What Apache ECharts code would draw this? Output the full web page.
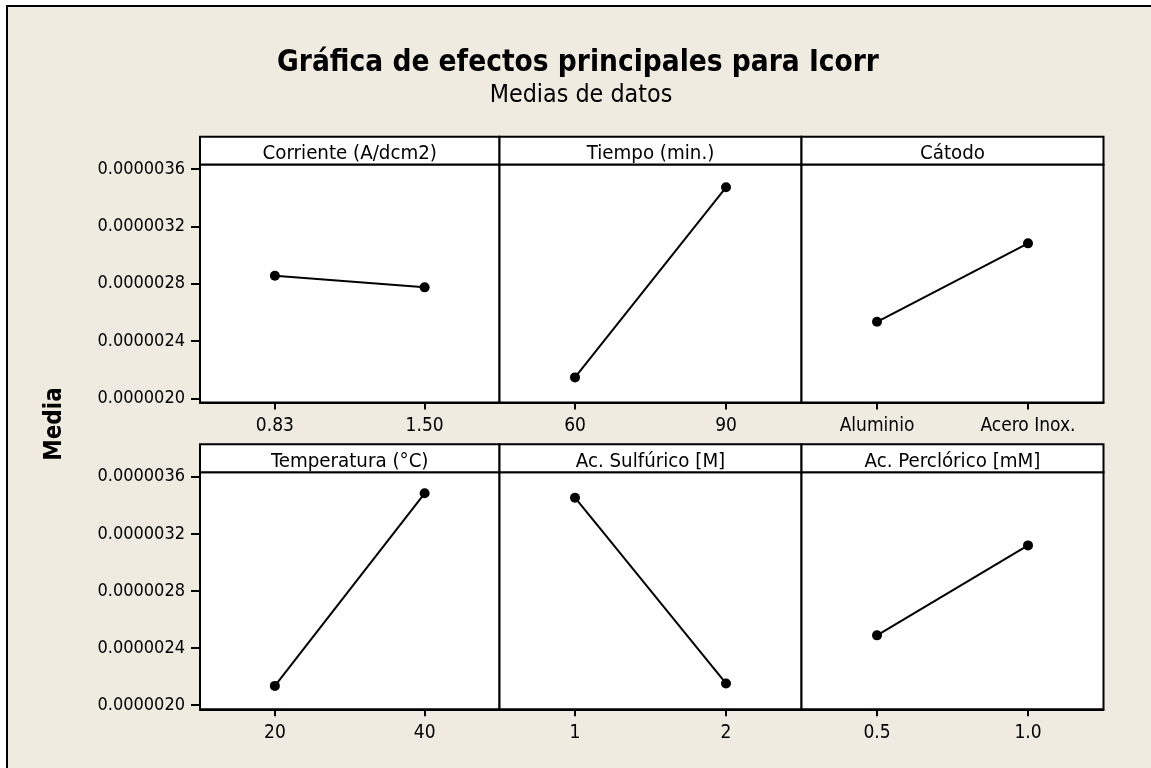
<!DOCTYPE html>
<html>
<head>
<meta charset="utf-8">
<script src="https://cdn.jsdelivr.net/npm/echarts@6/dist/echarts.min.js"></script>
<style>
html,body{margin:0;padding:0;background:#fff;}
#chart{width:1151px;height:768px;}
</style>
</head>
<body>
<div id="chart"></div>
<script>
// ---- data ----
const title = 'Gráfica de efectos principales para Icorr';
const subtitle = 'Medias de datos';
const yAxisName = 'Media';
const factors = ['Corriente (A/dcm2)', 'Tiempo (min.)', 'Cátodo',
                 'Temperatura (°C)', 'Ac. Sulfúrico [M]', 'Ac. Perclórico [mM]'];
const levels = [['0.83', '1.50'], ['60', '90'], ['Aluminio', 'Acero Inox.'],
                ['20', '40'], ['1', '2'], ['0.5', '1.0']];
const means = [[2.855e-6, 2.774e-6], [2.146e-6, 3.472e-6], [2.534e-6, 3.081e-6],
               [2.135e-6, 3.484e-6], [3.453e-6, 2.152e-6], [2.489e-6, 3.119e-6]];
const grandMean = 2.806e-6;
const yTicks = [2.0e-6, 2.4e-6, 2.8e-6, 3.2e-6, 3.6e-6];

// ---- layout ----
const FONT = "'DejaVu Sans Condensed', 'DejaVu Sans', sans-serif";
const colLeft = [200, 499.5, 801.5];
const colWidth = [299.5, 302, 302];
const rowTop = [164.5, 472.3];
const rowHeight = [238, 237];
const stripTop = [136.7, 444.3];
const yMin = 1.971e-6, yMax = 3.631e-6;

const grids = [], xAxes = [], yAxes = [], series = [], graphics = [];

graphics.push({
  type: 'rect', z: -10,
  shape: {x: 7, y: 6, width: 1170, height: 790},
  style: {fill: '#EFEBE1', stroke: '#000', lineWidth: 2}
});
graphics.push({
  type: 'text', x: 578, y: 63,
  style: {text: title, font: "bold 29.5px " + FONT, fill: '#000', align: 'center', verticalAlign: 'middle'}
});
graphics.push({
  type: 'text', x: 581, y: 96,
  style: {text: subtitle, font: "24.8px " + FONT, fill: '#000', align: 'center', verticalAlign: 'middle'}
});
graphics.push({
  type: 'text', x: 55, y: 424, rotation: Math.PI / 2,
  style: {text: yAxisName, font: "bold 24px " + FONT, fill: '#000', align: 'center', verticalAlign: 'middle'}
});

for (let i = 0; i < factors.length; i++) {
  const r = Math.floor(i / 3), c = i % 3;
  grids.push({
    left: colLeft[c], top: rowTop[r], width: colWidth[c], height: rowHeight[r],
    show: true, backgroundColor: '#fff', borderColor: '#000', borderWidth: 2,
    containLabel: false
  });
  xAxes.push({
    type: 'category', gridIndex: i, data: levels[i], boundaryGap: true,
    axisLine: {show: true, lineStyle: {color: '#000', width: 2}},
    axisTick: {show: true, alignWithLabel: true, length: 7, lineStyle: {color: '#000', width: 2}},
    axisLabel: {color: '#000', fontFamily: FONT, fontSize: 19, margin: 14},
    splitLine: {show: false}
  });
  yAxes.push({
    type: 'value', gridIndex: i, min: yMin, max: yMax,
    show: c === 0,
    axisLine: {show: true, lineStyle: {color: '#000', width: 2}},
    axisTick: {show: true, length: 9, customValues: yTicks, lineStyle: {color: '#000', width: 2}},
    axisLabel: {show: true, customValues: yTicks, color: '#000', fontFamily: FONT, fontSize: 18, margin: 15,
                formatter: v => Number(v).toFixed(7)},
    splitLine: {show: false}
  });
  series.push({
    type: 'line', xAxisIndex: i, yAxisIndex: i, data: means[i],
    symbol: 'circle', symbolSize: 10, color: '#000',
    lineStyle: {color: '#000', width: 2},
    itemStyle: {color: '#000'},
    animation: false, silent: true,
    markLine: {
      silent: true, symbol: 'none', animation: false,
      label: {show: false},
      lineStyle: {color: '#3a3a3a', width: 1.5, type: 'solid'},
      data: [{yAxis: grandMean}]
    },
    z: 5
  });
  graphics.push({
    type: 'rect', z: 10,
    shape: {x: colLeft[c], y: stripTop[r], width: colWidth[c], height: rowTop[r] - stripTop[r]},
    style: {fill: '#fff', stroke: '#000', lineWidth: 2}
  });
  graphics.push({
    type: 'text', z: 11,
    x: colLeft[c] + colWidth[c] / 2, y: (stripTop[r] + rowTop[r]) / 2 + 3,
    style: {text: factors[i], font: "20.3px " + FONT, fill: '#000', align: 'center', verticalAlign: 'middle'}
  });
}

const chart = echarts.init(document.getElementById('chart'), null, {renderer: 'canvas'});
chart.setOption({
  backgroundColor: '#fff',
  animation: false,
  grid: grids, xAxis: xAxes, yAxis: yAxes, series: series,
  graphic: graphics
});
</script>
</body>
</html>
